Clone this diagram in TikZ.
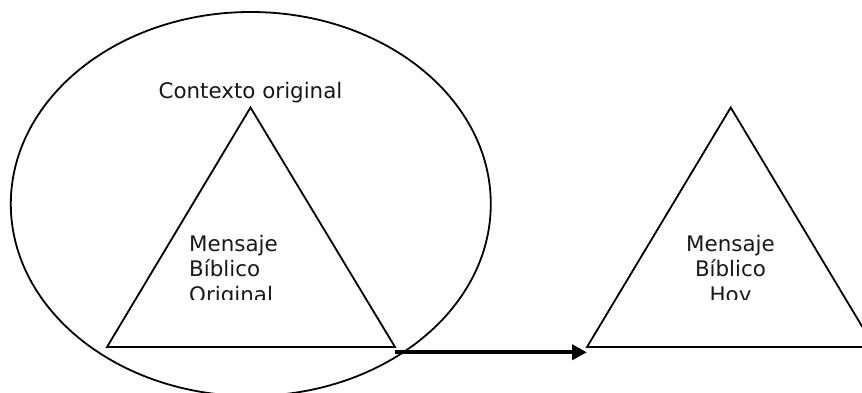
\documentclass[tikz,border=0pt]{standalone}
\usepackage{fontspec}
\setmainfont{DejaVu Sans}
\usetikzlibrary{arrows.meta}
\begin{document}
\begin{tikzpicture}[x=1pt,y=-1pt,
  shape line/.style={draw=black,line width=1.8pt,line join=miter},
  label text/.style={inner sep=0pt,font=\fontsize{21.4}{25.5}\selectfont,text=black!90},
  thick arrow/.style={line width=3.8pt,-{Triangle[length=15pt,width=15pt]}}]
\useasboundingbox (0,0) rectangle (862,392);
\fill[white] (0,0) rectangle (862,392);
% ellipse
\draw[shape line] (250.8,204) ellipse [x radius=240, y radius=192];
% triangle 1
\coordinate (t1a) at (250.5,107.5);
\coordinate (t1l) at (107,347);
\coordinate (t1r) at (395,347);
\draw[shape line] (t1a) -- (t1r) -- (t1l) -- cycle;
% triangle 2
\coordinate (t2a) at (730.7,107.5);
\coordinate (t2l) at (587,347);
\coordinate (t2r) at (874.4,347);
\draw[shape line] (t2a) -- (t2r) -- (t2l) -- cycle;
% texts
\node[label text,anchor=base] (ctx) at (250.5,98) {Contexto original};
\begin{scope}
\clip (0,0) rectangle (862,299.5);
\node[label text,anchor=base west,align=left] (m1) at (189,302) {Mensaje\\Bíblico\\Original};
\node[label text,anchor=base,align=center] (m2) at (730.5,302) {Mensaje\\Bíblico\\Hoy};
\end{scope}
% arrow
\coordinate (a1) at (395,352.3);
\coordinate (a2) at (587,352.3);
\draw[thick arrow] (a1) -- (a2);
\end{tikzpicture}
\end{document}
